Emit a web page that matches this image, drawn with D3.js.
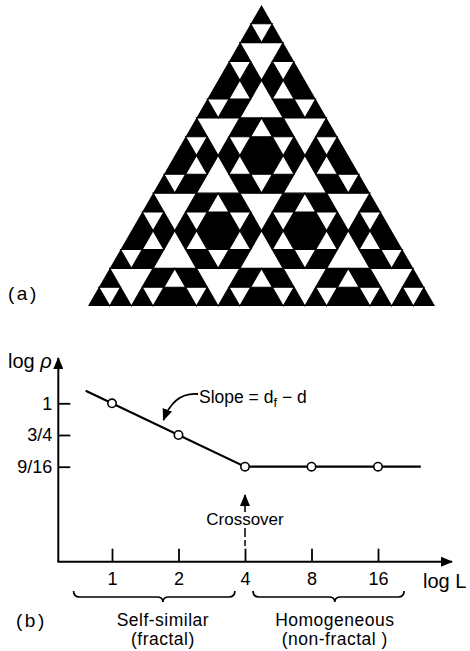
<!DOCTYPE html>
<html>
<head>
<meta charset="utf-8">
<script src="https://cdn.jsdelivr.net/npm/d3@7"></script>
<style>
  html, body { margin: 0; padding: 0; background: #fff; }
  svg { display: block; }
  text { font-family: "Liberation Sans", Arial, sans-serif; fill: #000; }
</style>
</head>
<body>
<svg id="chart" width="470" height="651"></svg>
<script>
// ---------------- data ----------------
// (a) fractal: gasket tiles of size crossoverSize, tiling a triangle of size systemSize
const systemSize = 16;     // whole triangle side, in smallest units
const crossoverSize = 4;   // tile size = crossover length
const gasketDepth = 2;     // hole levels inside each tile

// (b) density vs. size
const sizes   = [1, 2, 4, 8, 16];
const density = [1, 3/4, 9/16, 9/16, 9/16];
const xTickLabels = ["1", "2", "4", "8", "16"];
const yTickValues = [1, 3/4, 9/16];
const yTickLabels = ["1", "3/4", "9/16"];
const lineSizes   = [0.76, 4, 25];
const lineDensity = [1.12, 9/16, 9/16];
const crossoverL  = 4;
const regionNames  = [["Self-similar", "(fractal)"], ["Homogeneous", "(non-fractal )"]];
const regionStart  = [0.67, 4.35];
const regionEnd    = [3.6, 21];
const regionCenter = [1.70, 10.2];

// ---------------- setup ----------------
const svg = d3.select("#chart");
const FONT = 17.5;

// ---------------- (a) fractal ----------------
const half = systemSize / 2;
const xT = d3.scaleLinear().domain([-half, half]).range([88, 435]);
const yT = d3.scaleLinear().domain([0, systemSize]).range([5, 306]);

const upTri   = (u, b, n) => [[u, b], [u - n / 2, b + n], [u + n / 2, b + n]];
const downTri = (u, b, n) => [[u, b], [u + n, b], [u + n / 2, b + n]];

function upHoles(u, b, n, depth, out) {
  if (depth === 0) return;
  out.push(downTri(u - n / 4, b + n / 2, n / 2));
  upHoles(u, b, n / 2, depth - 1, out);
  upHoles(u - n / 4, b + n / 2, n / 2, depth - 1, out);
  upHoles(u + n / 4, b + n / 2, n / 2, depth - 1, out);
}
function downHoles(u, b, n, depth, out) {
  if (depth === 0) return;
  out.push(upTri(u + n / 2, b, n / 2));
  downHoles(u, b, n / 2, depth - 1, out);
  downHoles(u + n / 2, b, n / 2, depth - 1, out);
  downHoles(u + n / 4, b + n / 2, n / 2, depth - 1, out);
}

const holes = [];
const bands = systemSize / crossoverSize;
for (let B = 0; B < bands; B++) {
  const b = B * crossoverSize;
  const left = -b / 2;
  for (let k = 0; k <= B; k++) upHoles(left + k * crossoverSize, b, crossoverSize, gasketDepth, holes);
  for (let k = 0; k < B; k++) downHoles(left + k * crossoverSize, b, crossoverSize, gasketDepth, holes);
}

const toPts = tri => tri.map(([u, b]) => [xT(u), yT(b)].join(",")).join(" ");
const gA = svg.append("g");
gA.append("polygon").attr("points", toPts(upTri(0, 0, systemSize))).attr("fill", "#000");
gA.selectAll("polygon.hole").data(holes).enter().append("polygon")
  .attr("class", "hole").attr("points", toPts).attr("fill", "#fff")
  .attr("stroke", "#000").attr("stroke-width", 1.1).attr("stroke-linejoin", "miter");

svg.append("text").attr("x", 8).attr("y", 300).attr("font-size", 19)
  .attr("letter-spacing", 2.5).text("(a)");

// ---------------- (b) plot ----------------
const ox = 58.3, oy = 561.7;
const x = d3.scaleLog().base(2).domain([1, 16]).range([112, 378]);
const y = d3.scaleLog().domain([9/16, 1]).range([466.7, 403.3]);

const defs = svg.append("defs");
defs.append("marker").attr("id", "ah").attr("markerUnits", "userSpaceOnUse")
  .attr("viewBox", "0 0 12 10").attr("refX", 11).attr("refY", 5)
  .attr("markerWidth", 12).attr("markerHeight", 10).attr("orient", "auto")
  .append("path").attr("d", "M0,0 L12,5 L0,10 Z").attr("fill", "#000");

// axes lines with arrows
svg.append("line").attr("x1", ox).attr("y1", oy).attr("x2", ox).attr("y2", 358)
  .attr("stroke", "#000").attr("stroke-width", 2).attr("marker-end", "url(#ah)");
svg.append("line").attr("x1", ox - 1).attr("y1", oy).attr("x2", 452).attr("y2", oy)
  .attr("stroke", "#000").attr("stroke-width", 2).attr("marker-end", "url(#ah)");

const yAxis = svg.append("g").attr("transform", `translate(${ox},0)`)
  .call(d3.axisLeft(y).tickValues(yTickValues).tickFormat((d, i) => yTickLabels[i])
    .tickSizeInner(-12).tickSizeOuter(0).tickPadding(6));
const xAxis = svg.append("g").attr("transform", `translate(0,${oy})`)
  .call(d3.axisBottom(x).tickValues(sizes).tickFormat((d, i) => xTickLabels[i])
    .tickSizeInner(-13).tickSizeOuter(0).tickPadding(11));
[yAxis, xAxis].forEach(g => {
  g.select(".domain").remove();
  g.selectAll(".tick line").attr("stroke", "#000").attr("stroke-width", 1.8);
  g.selectAll(".tick text").attr("font-size", 18).attr("fill", "#000")
    .attr("font-family", '"Liberation Sans", Arial, sans-serif');
});

// axis titles
const yt = svg.append("text").attr("x", 8).attr("y", 368).attr("font-size", 20);
yt.append("tspan").text("log ");
yt.append("tspan").attr("font-style", "italic").text("ρ");
svg.append("text").attr("x", 423).attr("y", 588).attr("font-size", 20).text("log L");

// data line and points
const line = d3.line().x(d => x(d[0])).y(d => y(d[1]));
svg.append("path").datum(lineSizes.map((s, i) => [s, lineDensity[i]]))
  .attr("d", line).attr("fill", "none").attr("stroke", "#000").attr("stroke-width", 2.2);
svg.selectAll("circle.pt").data(sizes.map((s, i) => [s, density[i]])).enter()
  .append("circle").attr("class", "pt")
  .attr("cx", d => x(d[0])).attr("cy", d => y(d[1])).attr("r", 4.2)
  .attr("fill", "#fff").attr("stroke", "#000").attr("stroke-width", 1.6);

// slope annotation
svg.append("path").attr("d", "M198,394 Q174,392 163.5,420")
  .attr("fill", "none").attr("stroke", "#000").attr("stroke-width", 1.8)
  .attr("marker-end", "url(#ah)");
const st = svg.append("text").attr("x", 199).attr("y", 403).attr("font-size", FONT);
st.append("tspan").text("Slope = d");
st.append("tspan").attr("font-size", 13).attr("dy", 4).text("f");
st.append("tspan").attr("dy", -4).text(" − d");

// crossover annotation
const cx = x(crossoverL);
svg.append("line").attr("x1", cx).attr("y1", 512).attr("x2", cx).attr("y2", 495)
  .attr("stroke", "#000").attr("stroke-width", 1.6).attr("marker-end", "url(#ah)");
svg.append("text").attr("x", cx).attr("y", 525).attr("text-anchor", "middle")
  .attr("font-size", 17).text("Crossover");
svg.append("line").attr("x1", cx).attr("y1", 528).attr("x2", cx).attr("y2", 546)
  .attr("stroke", "#000").attr("stroke-width", 1.5).attr("stroke-dasharray", "9,3");

// braces and region labels
function brace(x1, x2, xc, y0) {
  const ym = y0 + 6, tip = y0 + 11, r = 6;
  return `M${x1},${y0} Q${x1},${ym} ${x1 + r},${ym} L${xc - r},${ym} Q${xc},${ym} ${xc},${tip}` +
         ` Q${xc},${ym} ${xc + r},${ym} L${x2 - r},${ym} Q${x2},${ym} ${x2},${y0}`;
}
regionNames.forEach((names, i) => {
  const xc = x(regionCenter[i]);
  svg.append("path").attr("d", brace(x(regionStart[i]), x(regionEnd[i]), xc, 591))
    .attr("fill", "none").attr("stroke", "#000").attr("stroke-width", 1.7);
  svg.append("text").attr("x", xc).attr("y", 626).attr("text-anchor", "middle")
    .attr("font-size", FONT).attr("letter-spacing", 0.5).text(names[0]);
  svg.append("text").attr("x", xc).attr("y", 645).attr("text-anchor", "middle")
    .attr("font-size", FONT).attr("letter-spacing", 0.5).text(names[1]);
});

svg.append("text").attr("x", 16).attr("y", 627).attr("font-size", 19)
  .attr("letter-spacing", 2.5).text("(b)");
</script>
</body>
</html>
